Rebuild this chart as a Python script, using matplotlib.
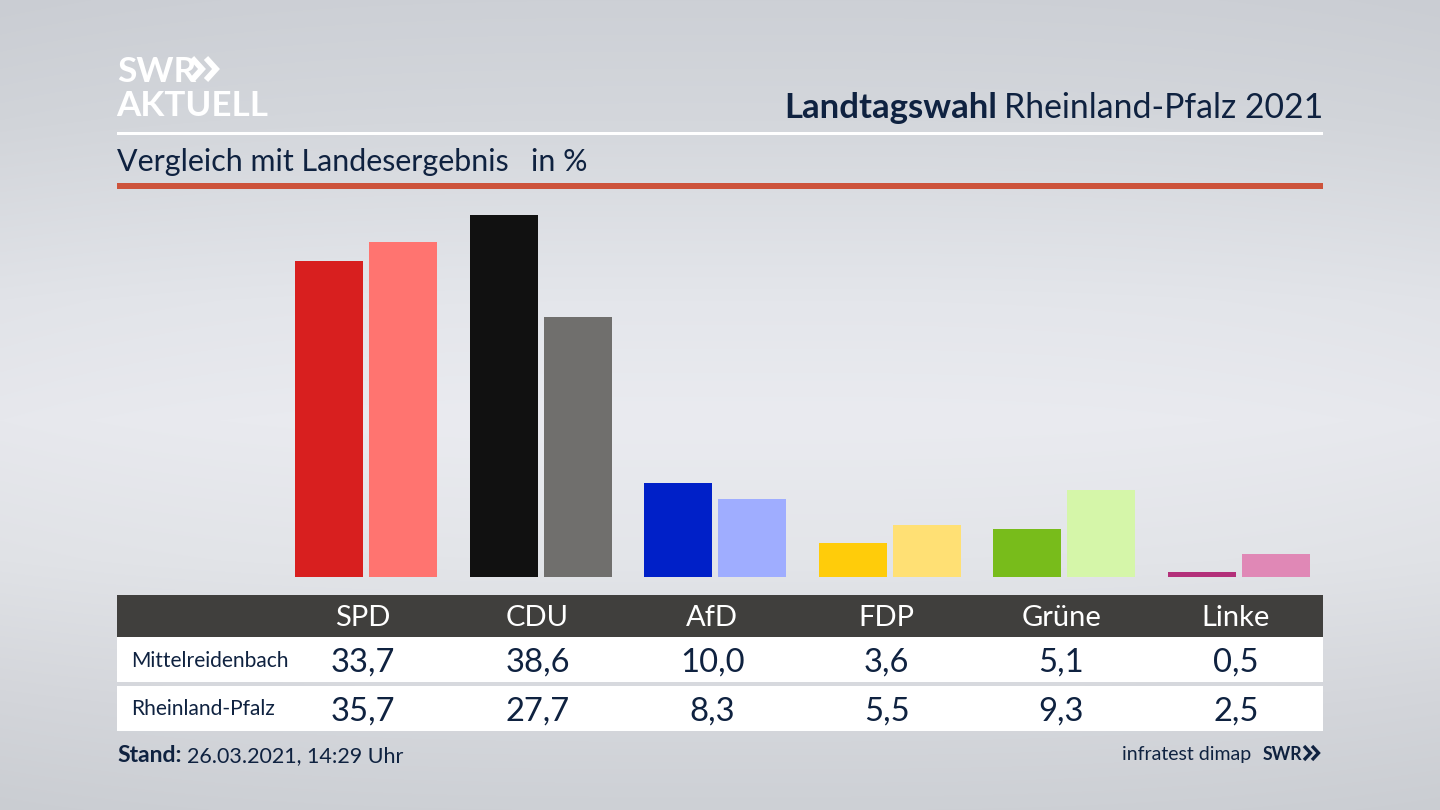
import numpy as np
import matplotlib
matplotlib.use("Agg")
import matplotlib.pyplot as plt
from matplotlib.patches import Rectangle

parties = ["SPD", "CDU", "AfD", "FDP", "Grüne", "Linke"]
local_values = [33.7, 38.6, 10.0, 3.6, 5.1, 0.5]
state_values = [35.7, 27.7, 8.3, 5.5, 9.3, 2.5]
local_colors = ["#d81f1f", "#111111", "#0020c8", "#ffcc0a", "#78bc1b", "#b3307a"]
state_colors = ["#ff7470", "#706f6d", "#9fadff", "#ffe074", "#d5f6a9", "#e088b6"]
local_name = "Mittelreidenbach"
state_name = "Rheinland-Pfalz"

NAVY = "#0f2240"
FONT = "Lato"
plt.rcParams["font.family"] = [FONT, "DejaVu Sans"]

fig = plt.figure(figsize=(14.4, 8.1), dpi=100)

# background + layout layer in pixel coordinates
bg = fig.add_axes([0, 0, 1, 1])
bg.set_xlim(0, 1440)
bg.set_ylim(810, 0)
bg.axis("off")
yy = np.array([0, 120, 300, 420, 560, 700, 810])
cc = np.array([[205, 208, 214], [212, 215, 220], [228, 230, 235], [234, 235, 240],
               [227, 229, 233], [214, 216, 221], [205, 208, 213]], dtype=float)
ys = np.arange(810)
grad = np.stack([np.interp(ys, yy, cc[:, k]) for k in range(3)], axis=1)[:, None, :]
xs = np.abs(np.linspace(-1, 1, 1440))[None, :, None]
img = np.clip(grad - 3 * xs ** 3, 0, 255) / 255
bg.imshow(img, extent=(0, 1440, 810, 0), aspect="auto", zorder=0)


def rect(x0, y0, x1, y1, c):
    bg.add_patch(Rectangle((x0, y0), x1 - x0, y1 - y0, fc=c, ec="none", zorder=1))


rect(117, 132, 1323, 135, "white")
rect(117, 183, 1323, 189, "#cd533b")
rect(117, 595, 1323, 637, "#403f3d")
rect(117, 637, 1323, 682, "white")
rect(117, 686, 1323, 731, "white")


def txt(x, y, s, size, color=NAVY, ha="left", weight="normal"):
    return bg.text(x, y, s, fontsize=size, color=color, ha=ha, va="baseline",
                   fontweight=weight, zorder=3)


def chevrons(x0, y0, h, w, gap, lw, color):
    for k in range(2):
        xk = x0 + k * gap
        bg.plot([xk, xk + w, xk], [y0, y0 + h / 2, y0 + h], color=color, lw=lw,
                solid_joinstyle="miter", solid_capstyle="butt", zorder=3)


# logo
txt(117, 82, "SWR", 25.5, "white", weight="bold")
chevrons(192, 58, 22, 10, 14, 4.2, "white")
txt(116, 116, "AKTUELL", 25.2, "white", weight="bold")

# headings
txt(1323, 118, "Rheinland-Pfalz 2021", 24.3, ha="right")
txt(997, 118, "Landtagswahl", 25, ha="right", weight="bold")
txt(117, 171, "Vergleich mit Landesergebnis", 21.9)
txt(531, 171, "in %", 21.9)

# bars
ax = fig.add_axes([117 / 1440, 1 - 577 / 810, 1206 / 1440, (577 - 200) / 810])
ax.patch.set_alpha(0)
step = 174.6
x = np.arange(len(parties))
ax.bar(x - 37 / step, local_values, width=68 / step, color=local_colors)
ax.bar(x + 37 / step, state_values, width=68 / step, color=state_colors)
ax.set_xlim((117 - 366) / step, (1323 - 366) / step)
ax.set_ylim(0, 377 / 9.38)
ax.axis("off")

# table
for i, p in enumerate(parties):
    cx = 363 + step * i
    txt(cx, 626, p, 21, "white", ha="center")
    txt(cx, 672, f"{local_values[i]:.1f}".replace(".", ","), 23.6, ha="center")
    txt(cx, 721, f"{state_values[i]:.1f}".replace(".", ","), 23.6, ha="center")
txt(131, 667, local_name, 15.1)
txt(131, 715, state_name, 15.1)

# footer
txt(117, 762, "Stand:", 16.5, weight="bold")
txt(187, 762, "26.03.2021, 14:29 Uhr", 15.5)
txt(1251, 760, "infratest dimap", 14, ha="right")
txt(1263, 760, "SWR", 12.8, weight="bold")
chevrons(1304, 746, 14, 6.5, 8, 2.4, NAVY)

fig.savefig("out.png", dpi=100)
